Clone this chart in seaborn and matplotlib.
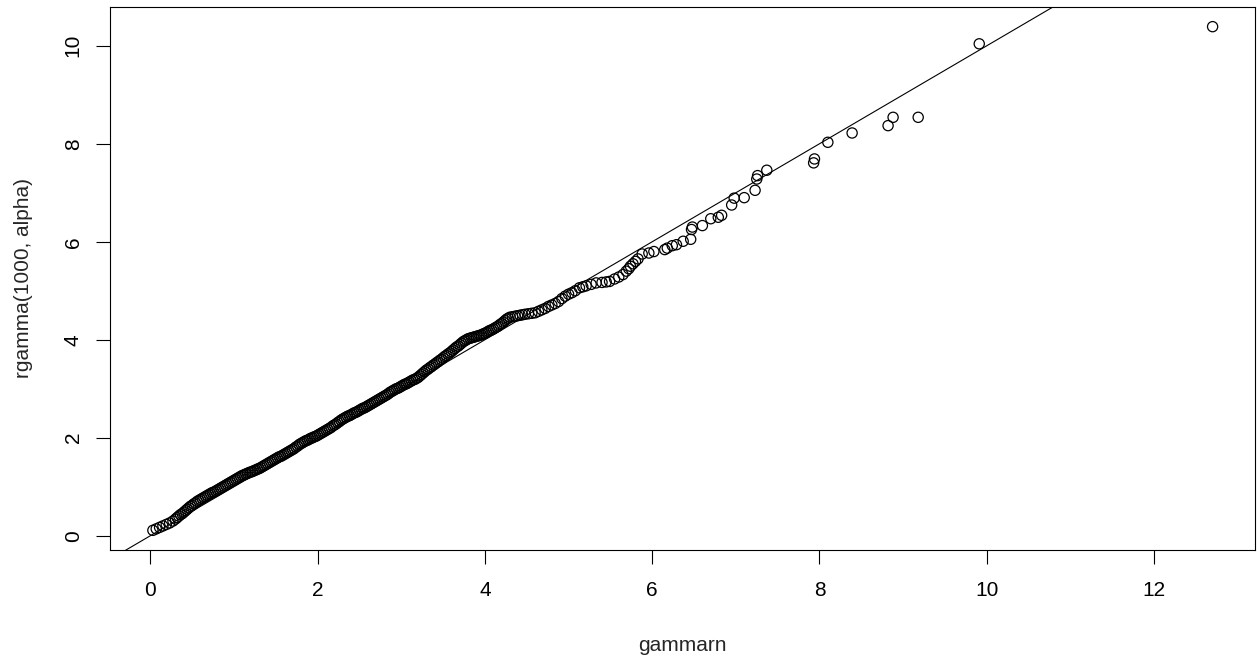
import matplotlib
matplotlib.use("Agg")
import matplotlib.pyplot as plt
import pandas as pd
import seaborn as sns

# Theoretical gamma quantiles (x) against sorted sample values (y)
gammarn = [
    0.03, 0.07, 0.11, 0.15, 0.19, 0.23, 0.27,
    0.30, 0.32, 0.34, 0.36, 0.38, 0.40, 0.42, 0.44, 0.46, 0.48,
    0.50, 0.52, 0.54, 0.56, 0.58, 0.60, 0.62, 0.64, 0.66, 0.68,
    0.70, 0.72, 0.74, 0.76, 0.78, 0.80, 0.82, 0.84, 0.86, 0.88,
    0.90, 0.92, 0.94, 0.96, 0.98, 1.00, 1.02, 1.04, 1.06, 1.08,
    1.10, 1.12, 1.14, 1.16, 1.18, 1.20, 1.22, 1.24, 1.26, 1.28,
    1.30, 1.32, 1.34, 1.36, 1.38, 1.40, 1.42, 1.44, 1.46, 1.48,
    1.50, 1.52, 1.54, 1.56, 1.58, 1.60, 1.62, 1.64, 1.66, 1.68,
    1.70, 1.72, 1.74, 1.76, 1.78, 1.80, 1.82, 1.84, 1.86, 1.88,
    1.90, 1.92, 1.94, 1.96, 1.98, 2.00, 2.02, 2.04, 2.06, 2.08,
    2.10, 2.12, 2.14, 2.16, 2.18, 2.20, 2.22, 2.24, 2.26, 2.28,
    2.30, 2.32, 2.34, 2.36, 2.38, 2.40, 2.42, 2.44, 2.46, 2.48,
    2.50, 2.52, 2.54, 2.56, 2.58, 2.60, 2.62, 2.64, 2.66, 2.68,
    2.70, 2.72, 2.74, 2.76, 2.78, 2.80, 2.82, 2.84, 2.86, 2.88,
    2.90, 2.92, 2.94, 2.96, 2.98, 3.00, 3.02, 3.04, 3.06, 3.08,
    3.10, 3.12, 3.14, 3.16, 3.18, 3.20, 3.22, 3.24, 3.26, 3.28,
    3.30, 3.32, 3.34, 3.36, 3.38, 3.40, 3.42, 3.44, 3.46, 3.48,
    3.50, 3.52, 3.54, 3.56, 3.58, 3.60, 3.62, 3.64, 3.66, 3.68,
    3.70, 3.72, 3.74, 3.76, 3.78, 3.80, 3.82, 3.84, 3.86, 3.88,
    3.90, 3.92, 3.94, 3.96, 3.98, 4.00, 4.02, 4.04, 4.06, 4.08,
    4.10, 4.12, 4.14, 4.16, 4.18, 4.20, 4.22, 4.24, 4.26, 4.28,
    4.30, 4.33, 4.36, 4.39, 4.42, 4.45, 4.48, 4.52, 4.56, 4.60,
    4.64, 4.68, 4.72, 4.76, 4.80, 4.84, 4.88, 4.92, 4.96, 5.00,
    5.04, 5.08, 5.13, 5.17, 5.21, 5.27, 5.33, 5.40, 5.45, 5.49,
    5.55, 5.60, 5.65, 5.69, 5.72, 5.74, 5.77, 5.80, 5.83, 5.88,
    5.96, 6.02, 6.15, 6.18, 6.24, 6.29, 6.37, 6.46, 6.47, 6.48,
    6.60, 6.70, 6.79, 6.83, 6.95, 6.98, 7.10, 7.23, 7.25, 7.26,
    7.37, 7.93, 7.94, 8.10, 8.39, 8.82, 8.88, 9.18, 9.91, 12.70,
]
sample = [
    0.11, 0.14, 0.17, 0.20, 0.23, 0.26, 0.30,
    0.34, 0.37, 0.40, 0.43, 0.45, 0.48, 0.51, 0.54, 0.57, 0.60,
    0.62, 0.65, 0.67, 0.70, 0.72, 0.74, 0.76, 0.78, 0.80, 0.82,
    0.84, 0.86, 0.88, 0.89, 0.91, 0.93, 0.95, 0.97, 0.99, 1.01,
    1.03, 1.05, 1.07, 1.09, 1.11, 1.13, 1.15, 1.17, 1.19, 1.21,
    1.23, 1.24, 1.26, 1.27, 1.29, 1.30, 1.31, 1.33, 1.34, 1.36,
    1.37, 1.39, 1.41, 1.43, 1.45, 1.47, 1.49, 1.51, 1.53, 1.55,
    1.57, 1.59, 1.61, 1.62, 1.64, 1.66, 1.68, 1.70, 1.72, 1.74,
    1.76, 1.78, 1.81, 1.83, 1.86, 1.88, 1.90, 1.92, 1.94, 1.95,
    1.97, 1.99, 2.00, 2.02, 2.03, 2.05, 2.07, 2.09, 2.11, 2.13,
    2.15, 2.17, 2.19, 2.21, 2.24, 2.26, 2.28, 2.31, 2.33, 2.36,
    2.38, 2.40, 2.42, 2.44, 2.45, 2.47, 2.49, 2.51, 2.52, 2.54,
    2.56, 2.58, 2.60, 2.61, 2.63, 2.65, 2.67, 2.69, 2.71, 2.73,
    2.75, 2.77, 2.79, 2.81, 2.83, 2.85, 2.87, 2.89, 2.92, 2.94,
    2.96, 2.98, 3.00, 3.01, 3.03, 3.05, 3.07, 3.09, 3.10, 3.12,
    3.14, 3.16, 3.18, 3.19, 3.21, 3.23, 3.26, 3.29, 3.32, 3.35,
    3.38, 3.40, 3.43, 3.45, 3.48, 3.50, 3.53, 3.55, 3.58, 3.60,
    3.63, 3.66, 3.68, 3.71, 3.73, 3.76, 3.79, 3.82, 3.85, 3.87,
    3.90, 3.93, 3.96, 3.98, 4.00, 4.02, 4.03, 4.04, 4.05, 4.06,
    4.07, 4.08, 4.09, 4.10, 4.12, 4.13, 4.15, 4.17, 4.19, 4.20,
    4.22, 4.24, 4.26, 4.28, 4.31, 4.33, 4.36, 4.39, 4.42, 4.44,
    4.46, 4.47, 4.48, 4.49, 4.50, 4.51, 4.52, 4.53, 4.54, 4.55,
    4.58, 4.61, 4.64, 4.68, 4.71, 4.74, 4.78, 4.84, 4.89, 4.93,
    4.96, 5.00, 5.06, 5.08, 5.10, 5.13, 5.16, 5.17, 5.18, 5.19,
    5.24, 5.28, 5.33, 5.40, 5.45, 5.50, 5.55, 5.60, 5.65, 5.75,
    5.77, 5.80, 5.84, 5.87, 5.92, 5.94, 6.01, 6.05, 6.25, 6.30,
    6.33, 6.47, 6.50, 6.54, 6.75, 6.89, 6.90, 7.05, 7.28, 7.35,
    7.46, 7.61, 7.69, 8.03, 8.22, 8.37, 8.54, 8.54, 10.04, 10.39,
]
x_ticks = [0, 2, 4, 6, 8, 10, 12]
y_ticks = [0, 2, 4, 6, 8, 10]

assert len(gammarn) == len(sample)
df = pd.DataFrame({"gammarn": gammarn, "sample": sample})

sns.set_style("ticks")
plt.rcParams["font.family"] = ["Liberation Sans", "DejaVu Sans"]

fig = plt.figure(figsize=(12.57, 6.58), dpi=100)
ax = fig.add_axes([0.0879, 0.1634, 0.9105, 0.8267])

sns.scatterplot(
    data=df, x="gammarn", y="sample", ax=ax,
    marker="o", s=54, facecolors="none", edgecolor="black", linewidth=0.9,
    legend=False,
)

# Reference line y = x
ax.axline((0, 0), slope=1, color="black", linewidth=0.8)

# Axis ranges padded by 4% of the data span on each side
xmin, xmax = min(gammarn), max(gammarn)
ymin, ymax = min(sample), max(sample)
xpad, ypad = 0.04 * (xmax - xmin), 0.04 * (ymax - ymin)
ax.set_xlim(xmin - xpad, xmax + xpad)
ax.set_ylim(ymin - ypad, ymax + ypad)

ax.set_xticks(x_ticks)
ax.set_yticks(y_ticks)
ax.set_yticklabels([str(t) for t in y_ticks], rotation=90, va="center")
ax.tick_params(axis="both", direction="out", length=10, width=0.8, color="black",
               labelsize=15, labelcolor="black")
ax.tick_params(axis="x", pad=12)
ax.tick_params(axis="y", pad=10)

for side in ax.spines.values():
    side.set_visible(True)
    side.set_color("black")
    side.set_linewidth(0.8)

ax.set_xlabel("gammarn", fontsize=15, labelpad=26)
ax.set_ylabel("rgamma(1000, alpha)", fontsize=15, labelpad=22)

fig.savefig("out.png", dpi=100, facecolor="white")
